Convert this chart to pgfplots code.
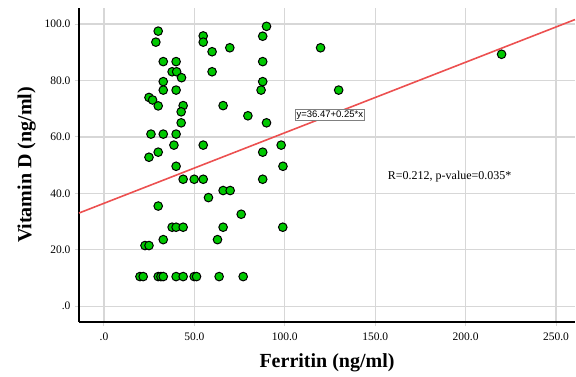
\documentclass[border=0pt]{standalone}
\usepackage{fontspec}
\setmainfont{Liberation Serif}
\newfontfamily\arialfont{Liberation Sans}
\usepackage{pgfplots}
\pgfplotsset{compat=1.18}
\definecolor{ptgreen}{RGB}{0,200,0}
\definecolor{fitred}{RGB}{236,80,80}
\definecolor{gridgray}{RGB}{215,215,215}
\begin{document}
\begin{tikzpicture}
\begin{axis}[
  scale only axis,
  width=496pt, height=314pt,
  xmin=-13.8, xmax=260.5,
  ymin=-5.6, ymax=105.7,
  axis x line*=bottom, axis y line*=left,
  axis line style={black, line width=1.3pt, -},
  xtick={0,50,100,150,200,250},
  xticklabels={.0,50.0,100.0,150.0,200.0,250.0},
  ytick={0,20,40,60,80,100},
  yticklabels={.0,20.0,40.0,60.0,80.0,100.0},
  /pgf/number format/assume math mode=true,
  tick label style={font=\fontsize{11.5}{13}\selectfont},
  tick style={draw=gridgray, line width=1pt},
  tick align=outside, major tick length=4pt,
  xticklabel style={yshift=-3pt},
  yticklabel style={xshift=-1pt},
  grid=major,
  grid style={gridgray, line width=1.2pt},
  xlabel={\textbf{Ferritin (ng/ml)}},
  ylabel={\textbf{Vitamin D (ng/ml)}},
  label style={font=\fontsize{20}{24}\selectfont},
  xlabel style={yshift=-6pt},
  ylabel style={yshift=2pt},
  clip=false,
]
\coordinate (SW) at (rel axis cs:0,0);
\addplot[fitred, line width=1.6pt] coordinates {(-13.8,33.02) (260.5,101.6)};
\addplot[only marks, mark=*, mark size=4.3pt, mark options={fill=ptgreen, draw=black, line width=1pt}]
  table {
x y
30.0 97.5
28.7 93.6
54.9 95.8
54.9 93.6
89.9 99.2
87.8 95.7
69.6 91.6
59.8 90.2
119.8 91.6
32.8 86.7
39.9 86.7
87.8 86.7
37.7 83.1
40.2 83.1
59.8 83.1
42.9 81.0
32.8 79.6
87.8 79.6
32.8 76.6
39.9 76.6
86.9 76.6
129.8 76.6
24.9 74.0
26.9 73.1
30.0 71.0
43.8 71.1
42.7 68.9
65.9 71.1
79.6 67.5
89.9 65.0
42.7 65.0
26.0 61.0
32.8 61.0
39.9 61.0
38.7 57.1
54.9 57.1
98.0 57.1
30.0 54.6
87.8 54.6
24.9 52.8
39.9 49.6
99.0 49.6
43.8 45.0
49.9 45.0
54.9 45.0
87.8 45.0
65.9 41.0
69.8 41.0
57.8 38.5
30.0 35.5
75.9 32.6
37.7 28.0
39.9 28.0
43.8 28.0
65.9 28.0
98.9 28.0
32.8 23.6
62.8 23.6
22.7 21.5
24.9 21.5
19.9 10.5
21.7 10.5
30.0 10.5
31.5 10.5
32.8 10.5
39.9 10.5
43.8 10.5
49.9 10.5
51.2 10.5
63.7 10.5
77.0 10.5
219.9 89.3
};
\node[draw=gray, fill=white, inner sep=1.5pt, line width=0.6pt, font=\arialfont\fontsize{9.5}{11}\selectfont]
  at (axis cs:124.9,67.8) {y=36.47+0.25*x};
\node[font=\fontsize{12}{14}\selectfont] at (axis cs:191.2,45.8) {R=0.212, p-value=0.035*};
\end{axis}
\pgfresetboundingbox
\path (SW) ++(-79pt,-54pt) rectangle ++(576pt,376pt);
\end{tikzpicture}
\end{document}
